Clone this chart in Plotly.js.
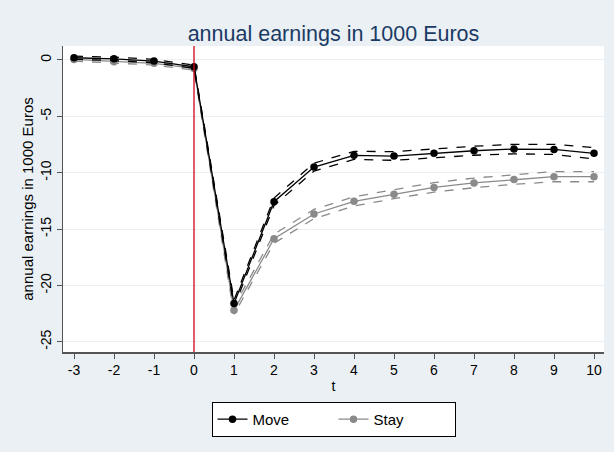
<!DOCTYPE html>
<html>
<head>
<meta charset="utf-8">
<script src="https://cdn.plot.ly/plotly-3.0.1.min.js"></script>
<style>html,body{margin:0;padding:0;background:#EAF0F4;}#chart{width:614px;height:452px;}</style>
</head>
<body>
<div id="chart"></div>
<script>
const t = [-3,-2,-1,0,1,2,3,4,5,6,7,8,9,10];
const moveEst = [0.2,0.1,-0.1,-0.6,-21.6,-12.57,-9.5,-8.46,-8.52,-8.28,-8.05,-7.9,-7.93,-8.28];
const moveLo  = [0.05,-0.05,-0.25,-0.75,-21.9,-12.9,-9.85,-8.82,-8.9,-8.68,-8.45,-8.32,-8.38,-8.78];
const moveHi  = [0.35,0.25,0.05,-0.45,-21.3,-12.25,-9.15,-8.1,-8.13,-7.88,-7.65,-7.48,-7.48,-7.78];
const stayEst = [0.05,-0.15,-0.3,-0.75,-22.2,-15.85,-13.66,-12.54,-11.9,-11.3,-10.9,-10.6,-10.35,-10.35];
const stayLo  = [-0.1,-0.3,-0.45,-0.9,-22.55,-16.25,-14.07,-12.95,-12.3,-11.72,-11.33,-11.03,-10.8,-10.8];
const stayHi  = [0.2,0.0,-0.15,-0.6,-21.85,-15.45,-13.25,-12.13,-11.5,-10.88,-10.47,-10.17,-9.9,-9.9];
const xTicks = [-3,-2,-1,0,1,2,3,4,5,6,7,8,9,10];
const xTickText = ['-3','-2','-1','0','1','2','3','4','5','6','7','8','9','10'];
const yTicks = [0,-5,-10,-15,-20,-25];
const yTickText = ['0','-5','-10','-15','-20','-25'];
const eventTime = 0;

const black = '#000000', grey = '#8a8a8a';
function ci(y, c){ return {x:t, y:y, mode:'lines', line:{color:c, width:1.3, dash:'dash'}, showlegend:false, hoverinfo:'skip'}; }
const traces = [
  ci(stayLo, grey), ci(stayHi, grey),
  {x:t, y:stayEst, mode:'lines+markers', name:'Stay', line:{color:grey, width:1.3}, marker:{color:grey, size:7.5}},
  ci(moveLo, black), ci(moveHi, black),
  {x:t, y:moveEst, mode:'lines+markers', name:'Move', line:{color:black, width:1.3}, marker:{color:black, size:7.5}}
];
const layout = {
  width:614, height:452,
  paper_bgcolor:'#EAF0F4', plot_bgcolor:'#FFFFFF',
  font:{family:'Liberation Sans, Arial, sans-serif', size:14, color:'#000'},
  margin:{l:63, r:10, t:46, b:100},
  title:{text:'annual earnings in 1000 Euros', font:{size:21.5, color:'#1a3a64'}, x:0.5, xanchor:'center', xref:'paper', y:0.927, yanchor:'middle'},
  xaxis:{range:[-3.275,10.25], tickvals:xTicks, ticktext:xTickText, ticks:'outside', ticklen:5, tickcolor:'#555', showgrid:false, zeroline:false,
         showline:true, linecolor:'#555', linewidth:1.5, title:{text:'t', font:{size:14}, standoff:4}},
  yaxis:{range:[-25.9,1.24], tickvals:yTicks, ticktext:yTickText, ticks:'outside', ticklen:5, tickcolor:'#555', tickangle:-90, showgrid:true, gridcolor:'#EAF0F4', gridwidth:1,
         zeroline:false, showline:true, linecolor:'#555', linewidth:1.5, title:{text:'annual earnings in 1000 Euros', font:{size:15}, standoff:0}},
  shapes:[{type:'line', xref:'x', yref:'paper', x0:eventTime, x1:eventTime, y0:0, y1:1, line:{color:'#d0021b', width:1.3}}],
  legend:{orientation:'h', x:0.5, xanchor:'center', y:-0.163, yanchor:'top', bgcolor:'#FFFFFF', bordercolor:'#000', borderwidth:1,
          font:{size:15}, traceorder:'reversed', entrywidth:76}
};
Plotly.newPlot('chart', traces, layout, {displayModeBar:false, staticPlot:true});
</script>
</body>
</html>
